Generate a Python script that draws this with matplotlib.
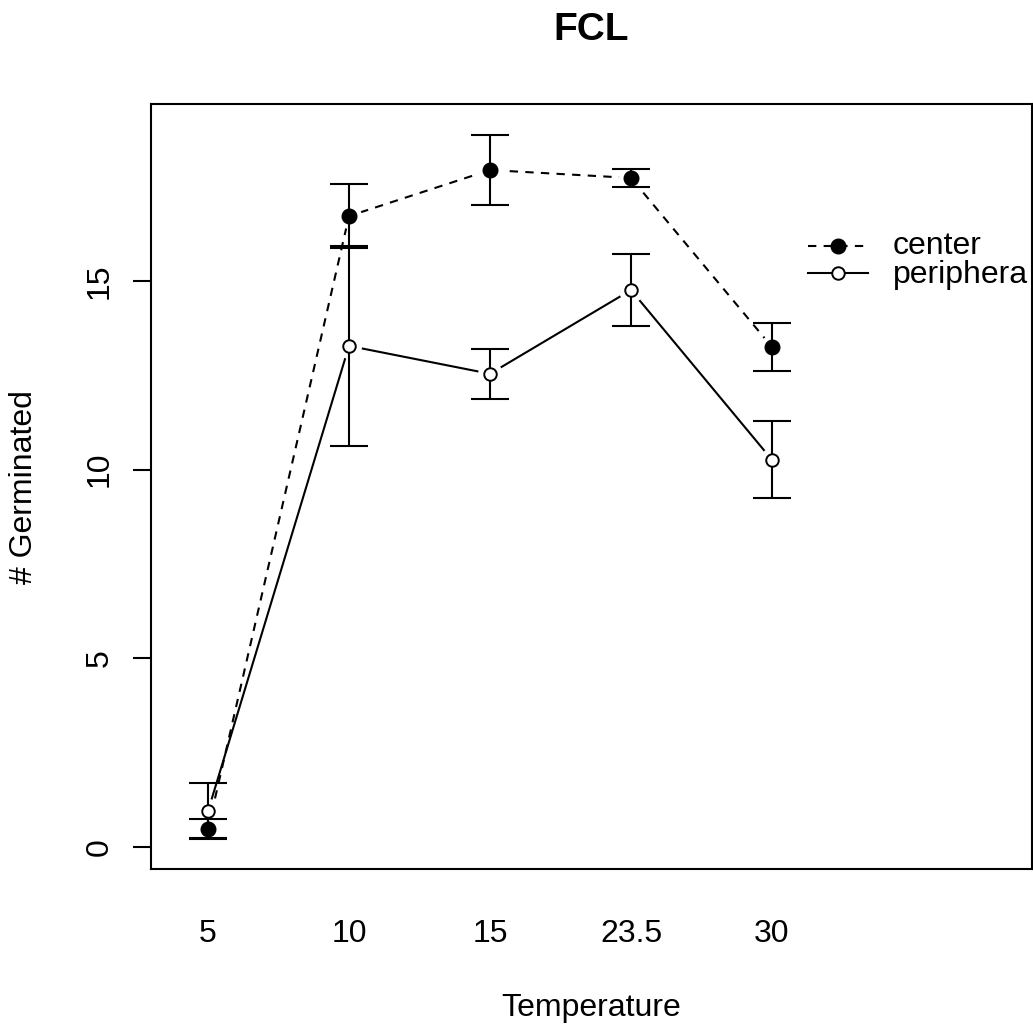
import matplotlib
matplotlib.use("Agg")
import matplotlib.pyplot as plt
from matplotlib.lines import Line2D
import numpy as np

plt.rcParams['font.family'] = ['Liberation Sans', 'DejaVu Sans']

temps = ['5', '10', '15', '23.5', '30']
center = [0.48, 16.72, 17.94, 17.73, 13.25]
center_err = [0.25, 0.85, 0.93, 0.23, 0.64]
periph = [0.95, 13.28, 12.54, 14.76, 10.26]
periph_err = [0.74, 2.65, 0.67, 0.96, 1.02]

x = np.arange(1, len(temps) + 1)
fs = 23

fig = plt.figure(figsize=(10.33, 10.26), dpi=100)
ax = fig.add_axes([151/1033, 157/1026, 881/1033, 765/1026])

lw = 1.5
# lines with gaps around points (R type="b")
ax.plot(x, center, color='black', lw=lw, dashes=(4, 3.5), zorder=1)
ax.plot(x, periph, color='black', lw=lw, zorder=1)
ax.plot(x, center, ls='none', marker='o', ms=17, mfc='white', mec='white', zorder=2)
ax.plot(x, periph, ls='none', marker='o', ms=17, mfc='white', mec='white', zorder=2)

ax.errorbar(x, center, yerr=center_err, fmt='none', ecolor='black', elinewidth=lw,
            capsize=14, capthick=lw, zorder=3)
ax.errorbar(x, periph, yerr=periph_err, fmt='none', ecolor='black', elinewidth=lw,
            capsize=14, capthick=lw, zorder=3)
ax.plot(x, center, ls='none', marker='o', ms=10.5, mfc='black', mec='black', zorder=4)
ax.plot(x, periph, ls='none', marker='o', ms=9, mfc='white', mec='black', mew=1.4, zorder=4)

ax.set_xlim(1 - 57/141, 1 + 824/141)
ax.set_ylim(-0.583, 19.69)

ax.set_xticks(x)
ax.set_xticklabels(temps)
ax.set_yticks([0, 5, 10, 15])
ax.tick_params(axis='x', length=0, pad=36, labelsize=fs)
ax.tick_params(axis='y', length=13, width=1.5, pad=13, labelsize=fs)
for lab in ax.get_yticklabels():
    lab.set_rotation(90)
    lab.set_va('center')
for s in ax.spines.values():
    s.set_linewidth(1.5)

# legend drawn like R's, clipped at plot border
ax.add_line(Line2D([0.746, 0.814], [0.815, 0.815], transform=ax.transAxes,
                   color='black', lw=lw, dashes=(4, 3.5)))
ax.add_line(Line2D([0.780], [0.815], transform=ax.transAxes, marker='o', ms=10.5,
                   color='black', ls='none'))
ax.add_line(Line2D([0.746, 0.814], [0.779, 0.779], transform=ax.transAxes,
                   color='black', lw=lw))
ax.add_line(Line2D([0.780], [0.779], transform=ax.transAxes, marker='o', ms=9,
                   mfc='white', mec='black', mew=1.4, ls='none'))
ax.text(0.842, 0.815, 'center', transform=ax.transAxes, fontsize=fs, va='center',
        clip_on=True)
ax.text(0.842, 0.777, 'periphera', transform=ax.transAxes, fontsize=fs, va='center',
        clip_on=True)

fig.text(591/1033, 1 - 30/1026, 'FCL', ha='center', va='center', fontsize=28,
         fontweight='bold')
fig.text(591/1033, 1 - 1008/1026, 'Temperature', ha='center', va='center', fontsize=fs)
fig.text(24/1033, 1 - 487/1026, '# Germinated', ha='center', va='center', fontsize=fs,
         rotation=90)

fig.savefig('out.png', dpi=100)
